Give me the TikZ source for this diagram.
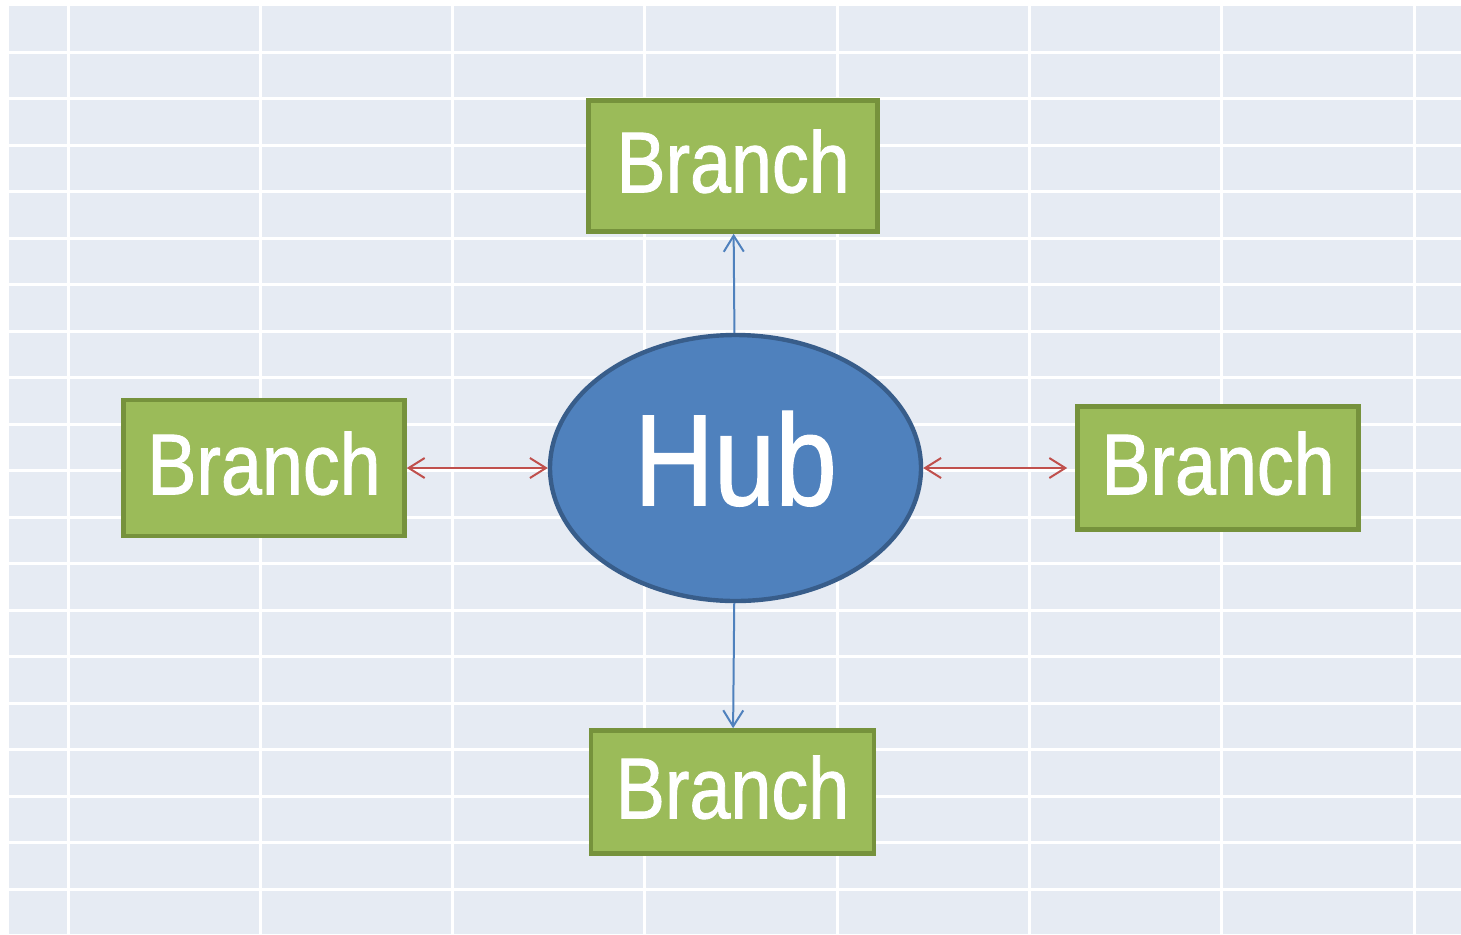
\documentclass[tikz,border=0pt]{standalone}
\usepackage{fontspec}
\setmainfont[FakeStretch=0.85, FakeBold=1]{Liberation Sans}
\usetikzlibrary{shapes, arrows.meta, positioning, calc}

\definecolor{gridbg}{HTML}{E6EBF3}
\definecolor{branchfill}{HTML}{9BBB59}
\definecolor{branchline}{HTML}{76923C}
\definecolor{hubfill}{HTML}{4F81BD}
\definecolor{hubline}{HTML}{385D8A}
\definecolor{linkred}{HTML}{C0504D}

\tikzset{
    branchbox/.style={draw=branchline, fill=branchfill, line width=2.3pt, rectangle, text=white, inner sep=0pt, text depth=5pt, font=\fontsize{43.3}{44}\selectfont},
    hubnode/.style={draw=hubline, fill=hubfill, line width=2.2pt, ellipse, text=white, inner sep=0pt, text depth=10pt, font=\fontsize{65}{66}\selectfont},
    bluelink/.style={draw=hubfill, line width=1pt, -{Straight Barb[length=8pt, width=10pt]}},
    redlink/.style={draw=linkred, line width=1pt, {Straight Barb[length=8pt, width=10pt]}-{Straight Barb[length=8pt, width=10pt]}}
}

\begin{document}
\begin{tikzpicture}[x=0.5pt, y=-0.5pt]
    \useasboundingbox (0,0) rectangle (1461,934);
    % Grid
    \fill[gridbg] (9,6) rectangle (1461,934);
    \foreach \gx in {0,...,7}
        \draw[white, line width=1.5pt] (68+192.3*\gx,6) -- (68+192.3*\gx,934);
    \foreach \gy in {0,...,18}
        \draw[white, line width=1.5pt] (9,52+46.5*\gy) -- (1461,52+46.5*\gy);

    % Nodes
    \node (hub) [hubnode, minimum width=185.5pt, minimum height=133pt] at (735.5,468) {Hub};
    \node (topbranch) [branchbox, above=49.5pt of hub, xshift=-1.2pt, minimum width=144.5pt, minimum height=65.5pt] {Branch};
    \node (leftbranch) [branchbox, left=70.5pt of hub, minimum width=140.5pt, minimum height=68pt] {Branch};
    \node (rightbranch) [branchbox, right=76pt of hub, minimum width=140.5pt, minimum height=61.5pt] {Branch};
    \node (bottombranch) [branchbox, below=62.5pt of hub, xshift=-1.5pt, minimum width=141.5pt, minimum height=61.5pt] {Branch};

    % Arrows
    \draw[bluelink] (hub) -- (topbranch);
    \draw[bluelink] (hub) -- (bottombranch);
    \draw[redlink] (leftbranch) -- (hub);
    \draw[redlink, shorten >=4pt] (hub) -- (rightbranch);
\end{tikzpicture}
\end{document}
